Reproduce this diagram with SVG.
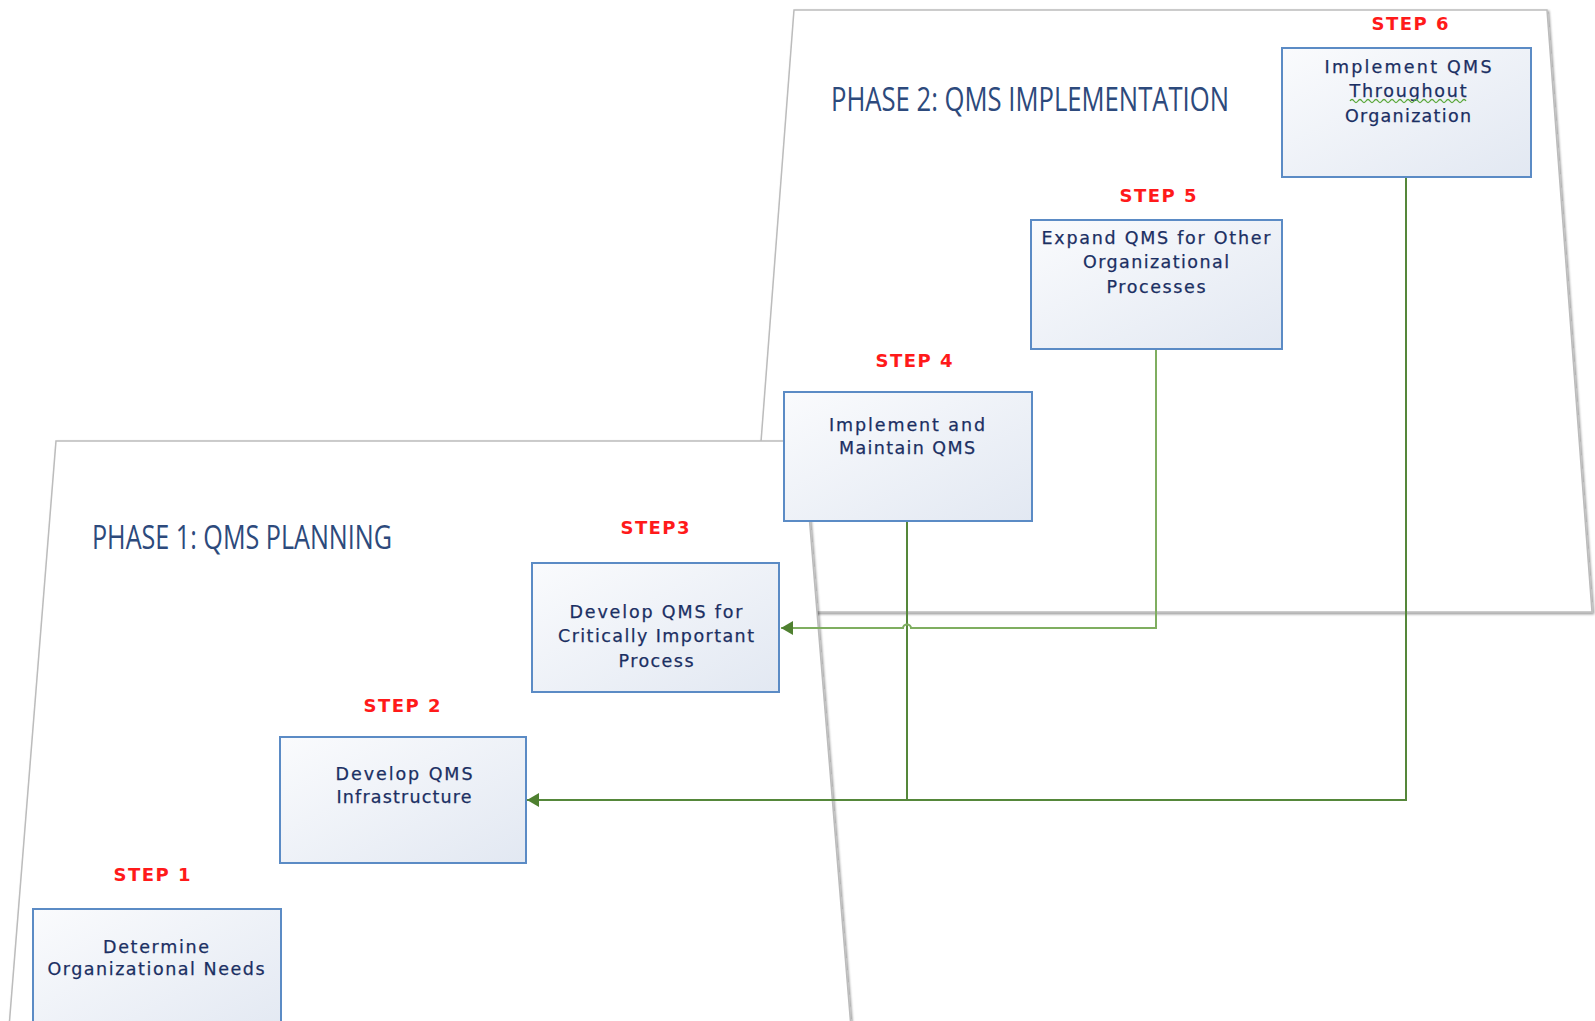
<svg xmlns="http://www.w3.org/2000/svg" width="1595" height="1021" viewBox="0 0 1595 1021">
  <defs>
    <linearGradient id="boxFill" x1="0" y1="0" x2="1" y2="1">
      <stop offset="0" stop-color="#fafbfd"/>
      <stop offset="1" stop-color="#e2e8f2"/>
    </linearGradient>
    <filter id="panelShadow" x="-5%" y="-5%" width="110%" height="110%">
      <feDropShadow dx="1.5" dy="1.5" stdDeviation="1.2" flood-color="#000" flood-opacity="0.4"/>
    </filter>
    <filter id="soft" x="-10%" y="-50%" width="120%" height="200%">
      <feGaussianBlur stdDeviation="0.8"/>
    </filter>
    <marker id="arrow" viewBox="0 0 12 14" refX="12" refY="7" markerWidth="12" markerHeight="14" markerUnits="userSpaceOnUse" orient="auto">
      <path d="M0,0 L12,7 L0,14 Z" fill="#4f8030"/>
    </marker>
    <style>
      .panel { fill: #ffffff; stroke: #bcbcbc; stroke-width: 1.5; filter: url(#panelShadow); }
      .phase { font-family: "Open Sans", "Liberation Sans", sans-serif; font-size: 33px; fill: #2d4a7c; }
      .box { fill: url(#boxFill); stroke: #5b8bc5; stroke-width: 2; }
      .bt { font-family: "DejaVu Sans", Verdana, sans-serif; font-size: 17.5px; fill: #1b2f63; stroke: #1b2f63; stroke-width: 0.25; text-anchor: middle; }
      .step { font-family: "DejaVu Sans", Verdana, sans-serif; font-weight: bold; font-size: 18px; fill: #ff1a1a; text-anchor: middle; }
      .ghost { stroke: #e2e2e2; stroke-width: 5; stroke-dasharray: 7 3; filter: url(#soft); }
      .link { fill: none; stroke: #55873a; stroke-width: 2; }
      .link.light { stroke: #7fae60; }
    </style>
  </defs>

  <rect width="1595" height="1021" fill="#ffffff"/>

  <!-- phase panels -->
  <g id="phase2">
    <polygon class="panel" points="794,10 1547,10 1592,612 748,612"/>
    <text class="phase" x="831" y="111" textLength="398" lengthAdjust="spacingAndGlyphs">PHASE 2: QMS IMPLEMENTATION</text>
  </g>
  <g id="phase1">
    <polygon class="panel" points="56,441 803,441 852,1040 8,1040"/>
    <text class="phase" x="92" y="549" textLength="300" lengthAdjust="spacingAndGlyphs">PHASE 1: QMS PLANNING</text>
  </g>

  <!-- connectors -->
  <g id="connectors">
    <path class="link" d="M1406,178 V800 H527" marker-end="url(#arrow)"/>
    <path class="link" d="M907,522 V800"/>
    <path class="link light" d="M1156,350 V628 H911 a4,3.5 0 0 0 -8,0 H781" marker-end="url(#arrow)"/>
  </g>

  <!-- faint marks under the step labels -->
  <g id="marks">
    <line class="ghost" x1="1127" y1="217" x2="1197" y2="217"/>
    <line class="ghost" x1="883" y1="386" x2="953" y2="386"/>
    <line class="ghost" x1="628" y1="553" x2="698" y2="553"/>
    <line class="ghost" x1="377" y1="728" x2="447" y2="728"/>
    <line class="ghost" x1="122" y1="900" x2="193" y2="900"/>
  </g>

  <!-- steps -->
  <g id="step1">
    <text class="step" x="152" y="881" textLength="77" lengthAdjust="spacing">STEP 1</text>
    <rect class="box" x="33" y="909" width="248" height="130"/>
    <text class="bt" x="156" y="953" textLength="106" lengthAdjust="spacing">Determine</text>
    <text class="bt" x="156" y="975" textLength="217" lengthAdjust="spacing">Organizational Needs</text>
  </g>

  <g id="step2">
    <text class="step" x="402" y="712" textLength="77" lengthAdjust="spacing">STEP 2</text>
    <rect class="box" x="280" y="737" width="246" height="126"/>
    <text class="bt" x="404" y="780" textLength="137" lengthAdjust="spacing">Develop QMS</text>
    <text class="bt" x="404" y="803" textLength="135" lengthAdjust="spacing">Infrastructure</text>
  </g>

  <g id="step3">
    <text class="step" x="655" y="534" textLength="69" lengthAdjust="spacing">STEP3</text>
    <rect class="box" x="532" y="563" width="247" height="129"/>
    <text class="bt" x="656" y="618" textLength="173" lengthAdjust="spacing">Develop QMS for</text>
    <text class="bt" x="656" y="642" textLength="196" lengthAdjust="spacing">Critically Important</text>
    <text class="bt" x="656" y="667" textLength="75" lengthAdjust="spacing">Process</text>
  </g>

  <g id="step4">
    <text class="step" x="914" y="367" textLength="77" lengthAdjust="spacing">STEP 4</text>
    <rect class="box" x="784" y="392" width="248" height="129"/>
    <text class="bt" x="907" y="431" textLength="156" lengthAdjust="spacing">Implement and</text>
    <text class="bt" x="907" y="454" textLength="136" lengthAdjust="spacing">Maintain QMS</text>
  </g>

  <g id="step5">
    <text class="step" x="1158" y="202" textLength="77" lengthAdjust="spacing">STEP 5</text>
    <rect class="box" x="1031" y="220" width="251" height="129"/>
    <text class="bt" x="1156" y="244" textLength="229" lengthAdjust="spacing">Expand QMS for Other</text>
    <text class="bt" x="1156" y="268" textLength="146" lengthAdjust="spacing">Organizational</text>
    <text class="bt" x="1156" y="293" textLength="99" lengthAdjust="spacing">Processes</text>
  </g>

  <g id="step6">
    <text class="step" x="1410" y="30" textLength="77" lengthAdjust="spacing">STEP 6</text>
    <rect class="box" x="1282" y="48" width="249" height="129"/>
    <text class="bt" x="1408" y="73" textLength="167" lengthAdjust="spacing">Implement QMS</text>
    <text class="bt" x="1408" y="97" textLength="117" lengthAdjust="spacing">Throughout</text>
    <path d="M1350,101 q2,-3 4,0 t4,0 t4,0 t4,0 t4,0 t4,0 t4,0 t4,0 t4,0 t4,0 t4,0 t4,0 t4,0 t4,0 t4,0 t4,0 t4,0 t4,0 t4,0 t4,0 t4,0 t4,0 t4,0 t4,0 t4,0 t4,0 t4,0 t4,0 t4,0" fill="none" stroke="#5aa83a" stroke-width="1.3"/>
    <text class="bt" x="1408" y="122" textLength="126" lengthAdjust="spacing">Organization</text>
  </g>
</svg>
